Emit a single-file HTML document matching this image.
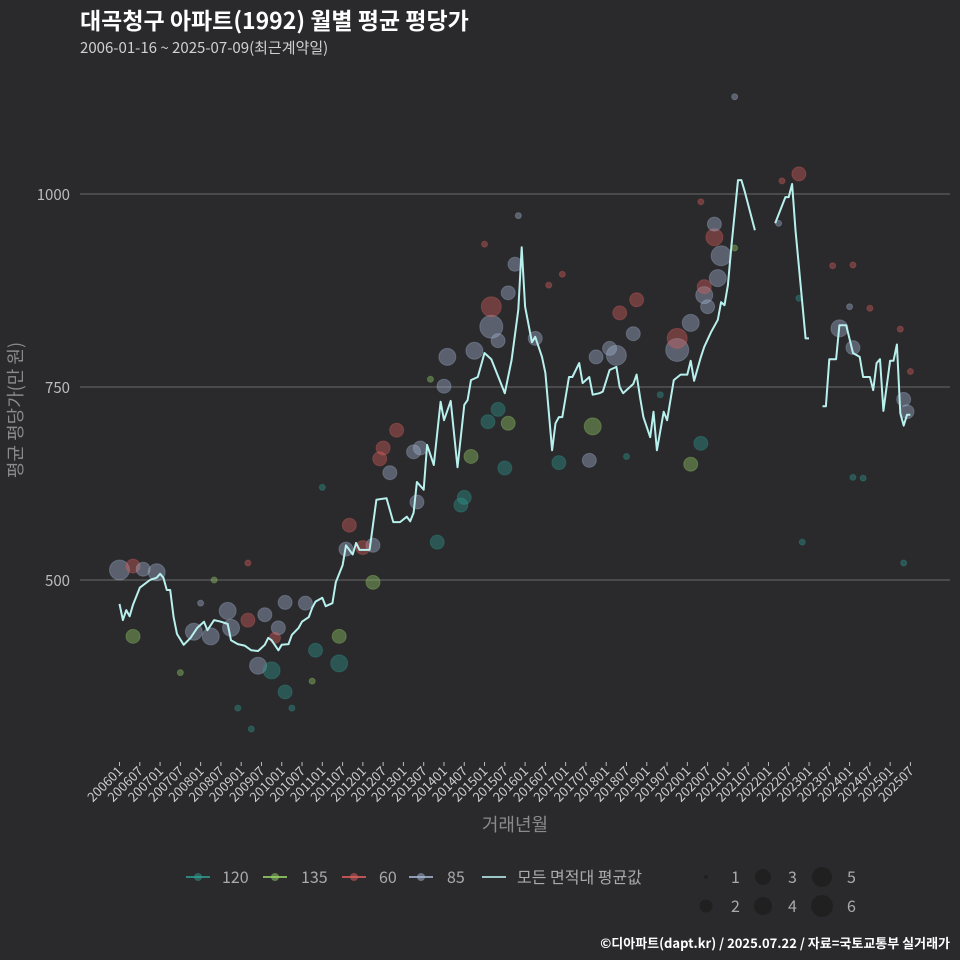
<!DOCTYPE html>
<html><head><meta charset="utf-8"><style>
body{margin:0;background:#2a2a2c;}
svg{display:block;font-family:"Noto Sans CJK KR","Liberation Sans",sans-serif;}
</style></head><body>
<svg id="chart" width="960" height="960" viewBox="0 0 960 960" xmlns="http://www.w3.org/2000/svg">
<rect x="0" y="0" width="960" height="960" fill="#2a2a2c"/>
<text x="80" y="29" fill="#ffffff" font-size="23" font-weight="bold">대곡청구 아파트(1992) 월별 평균 평당가</text>
<text x="80" y="53" fill="#d0d0d0" font-size="15">2006-01-16 ~ 2025-07-09(최근계약일)</text>
<g id="grid"></g>
<g id="yticks"></g>
<g id="xticks"></g>
<g id="bubbles"></g>
<g id="line"></g>
<text transform="translate(22,410) rotate(-90)" text-anchor="middle" fill="#8a8a8a" font-size="18">평균 평당가(만 원)</text>
<text x="515" y="831" text-anchor="middle" fill="#8a8a8a" font-size="18">거래년월</text>
<g id="legend"></g>
<text x="950" y="948" text-anchor="end" fill="#ffffff" font-size="13" font-weight="bold">©디아파트(dapt.kr) / 2025.07.22 / 자료=국토교통부 실거래가</text>
</svg>
<script>
const yTicks=[500,750,1000];
const xTickLabels=["200601","200607","200701","200707","200801","200807","200901","200907","201001","201007","201101","201107","201201","201207","201301","201307","201401","201407","201501","201507","201601","201607","201701","201707","201801","201807","201901","201907","202001","202007","202101","202107","202201","202207","202301","202307","202401","202407","202501","202507"];
const lineMonths=[0,1,2,3,4,6,9,11,12,13,14,15,16,17,19,21,23,25,26,28,30,32,33,35,37,39,41,43,44,45,47,48,50,51,53,54,56,57,58,60,61,63,64,66,67,69,70,71,74,76,79,81,83,85,86,87,88,90,91,93,95,96,98,100,102,103,104,106,108,110,114,116,118,119,120,122,123,125,126,128,129,130,131,133,134,136,137,139,140,142,143,145,147,148,149,152,153,154,155,157,158,159,161,162,164,166,168,169,170,172,173,175,177,178,179,180,181,183,184,185,188,null,193,194,197,198,199,200,203,204,null,207,208,209,210,212,213,215,217,219,220,222,223,224,225,226,228,229,230,231,232,233,234];
const lineValues=[469,448,461,453,468,490,500,503,508,503,487,487,452,430,416,425,438,446,435,448,446,443,422,417,415,409,408,416,425,422,409,416,417,429,438,446,452,464,472,477,466,470,497,519,545,533,548,539,539,604,606,575,575,582,576,587,627,617,675,649,731,707,732,646,727,733,759,763,794,786,742,785,850,931,854,808,815,789,768,668,703,711,711,763,763,781,755,763,740,742,744,772,776,750,742,754,766,737,711,685,718,668,718,707,759,766,766,784,758,789,802,821,837,860,856,882,931,1018,1018,1003,953,953,null,962,996,996,1013,953,813,813,549,null,725,725,786,786,830,830,794,789,763,763,746,781,786,719,784,784,805,716,700,714,714,685];
const bubbleMonths=[0,4,7,11,4,32,22,27,33,38,41,45,49,43,49,55,46,47,58,65,65,67,68,75,75,72,77,78,82,80,87,89,88,94,104,96,97,105,109,112,115,114,110,110,112,115,117,123,130,140,139,141,145,147,148,153,152,102,101,165,165,169,173,173,174,178,177,176,176,172,169,201,213,217,232,233,182,118,108,39,35,51,57,38,28,216,211,217,222,231,234,217,220,232,202,201,196,195,172,182,131,127,24,18,60,92,150,160];
const bubbleValues=[513,518,514,510,427,460,433,427,438,448,389,383,355,455,471,470,425,438,409,392,427,540,571,545,497,542,657,671,694,639,666,671,601,549,660,751,789,797,705,721,703,645,854,828,810,872,909,813,652,699,655,789,800,791,846,863,819,607,597,813,798,833,880,869,854,920,891,944,961,677,650,1026,826,801,734,718,1126,972,935,307,334,334,369,522,500,854,907,908,852,825,770,633,632,522,549,865,1017,962,990,930,896,882,470,380,620,760,660,740];
const bubbleAreas=["85","60","85","85","135","85","85","85","85","60","85","120","120","85","85","85","60","85","120","120","135","85","60","85","135","60","60","60","60","85","85","85","85","120","135","85","85","85","120","120","135","120","60","85","85","85","85","85","120","135","85","85","85","85","60","60","85","120","120","60","85","85","60","85","85","85","85","60","85","120","135","60","85","85","85","85","85","85","60","120","120","120","135","60","135","85","60","60","60","60","60","120","120","120","120","120","60","85","60","135","60","60","85","135","120","135","120","120"];
const bubbleCounts=[5,3,3,4,3,4,4,4,4,3,4,4,3,3,3,3,2,3,3,4,3,3,3,3,3,3,3,3,3,3,3,3,3,3,3,3,4,4,3,3,3,3,5,6,3,3,3,3,3,4,3,3,3,5,3,3,3,3,3,5,6,4,3,4,3,5,4,4,3,3,3,3,4,3,3,3,1,1,1,1,1,1,1,1,1,1,1,1,1,1,1,1,1,1,1,1,1,1,1,1,1,1,1,1,1,1,1,1];
const areaColors={"120":"#2e9e94","135":"#9ad46a","60":"#e06060","85":"#a8b8d8"};
const NS="http://www.w3.org/2000/svg";
const X=m=>119.5+m*3.38;
const Y=v=>194+(1000-v)*0.772;
const R=c=>[0,3,5.5,7,8.5,10,11.5][c];
function mk(tag,attrs,parent){const e=document.createElementNS(NS,tag);for(const k in attrs)e.setAttribute(k,attrs[k]);parent.appendChild(e);return e;}
const grid=document.getElementById('grid'),yt=document.getElementById('yticks'),xt=document.getElementById('xticks');
yTicks.forEach(v=>{
 const l=mk('line',{x1:80,x2:950,y1:Y(v),y2:Y(v),stroke:'#6a6a6a','stroke-width':1},grid);
 
 
 const t=mk('text',{x:70,y:Y(v)+6,'text-anchor':'end',fill:'#bbbbbb','font-size':15},yt);
 
 
 t.textContent=v;
});
xTickLabels.forEach((lab,i)=>{
 const x=X(i*6);
 const tk=mk('line',{x1:x,x2:x,y1:762,y2:766,stroke:'#bbbbbb'},xt);
 
 
 const t=mk('text',{transform:`translate(${x+4},${772}) rotate(-45)`,'text-anchor':'end',fill:'#cccccc','font-size':13},xt);
 
 
 t.textContent=lab;
});
const bg=document.getElementById('bubbles');
const order=bubbleMonths.map((m,i)=>i).sort((a,b)=>bubbleCounts[b]-bubbleCounts[a]);
order.forEach(i=>{
 const c=mk('circle',{cx:X(bubbleMonths[i]),cy:Y(bubbleValues[i]),r:R(bubbleCounts[i]),fill:areaColors[bubbleAreas[i]],'fill-opacity':0.38,stroke:areaColors[bubbleAreas[i]],'stroke-opacity':0.3},bg);
 
 
});
const lg=document.getElementById('line');
let d='',pen=false;
lineMonths.forEach((m,i)=>{
 const v=lineValues[i];
 if(m===null||v===null){pen=false;return;}
 d+=(pen?'L':'M')+X(m).toFixed(1)+','+Y(v).toFixed(1);pen=true;
});
const p=mk('path',{d:d,fill:'none',stroke:'#b8f0ee','stroke-width':2,'stroke-linejoin':'round'},lg);


const leg=document.getElementById('legend');
const legItems=[["120",186,222],["135",263,301],["60",342,379],["85",409,447],["모든 면적대 평균값",482,517]];
legItems.forEach(([name,x0,tx])=>{
 const col=name.length>3?'#b8f0ee':areaColors[name];
 const g=mk('g',{},leg);
 
 
 mk('line',{x1:x0,x2:x0+24,y1:877,y2:877,stroke:col,'stroke-width':2,'stroke-opacity':0.8},g);
 if(name.length<=3)mk('circle',{cx:x0+12,cy:877,r:4,fill:col,'fill-opacity':0.5},g);
 const t=mk('text',{x:tx,y:883,fill:'#aaaaaa','font-size':16},g);
 t.textContent=name;
});
const sizeItems=[[1,706,877],[2,706,906],[3,763,877],[4,763,906],[5,822,877],[6,822,906]];
sizeItems.forEach(([n,x,y])=>{
 const g=mk('g',{},leg);
 
 
 mk('circle',{cx:x,cy:y,r:[0,2,6.5,8,9,10,11][n],fill:'#1c1c1c','fill-opacity':0.7},g);
 const t=mk('text',{x:x+25,y:y+6,fill:'#aaaaaa','font-size':16},g);
 t.textContent=n;
});
</script>
</body></html>
